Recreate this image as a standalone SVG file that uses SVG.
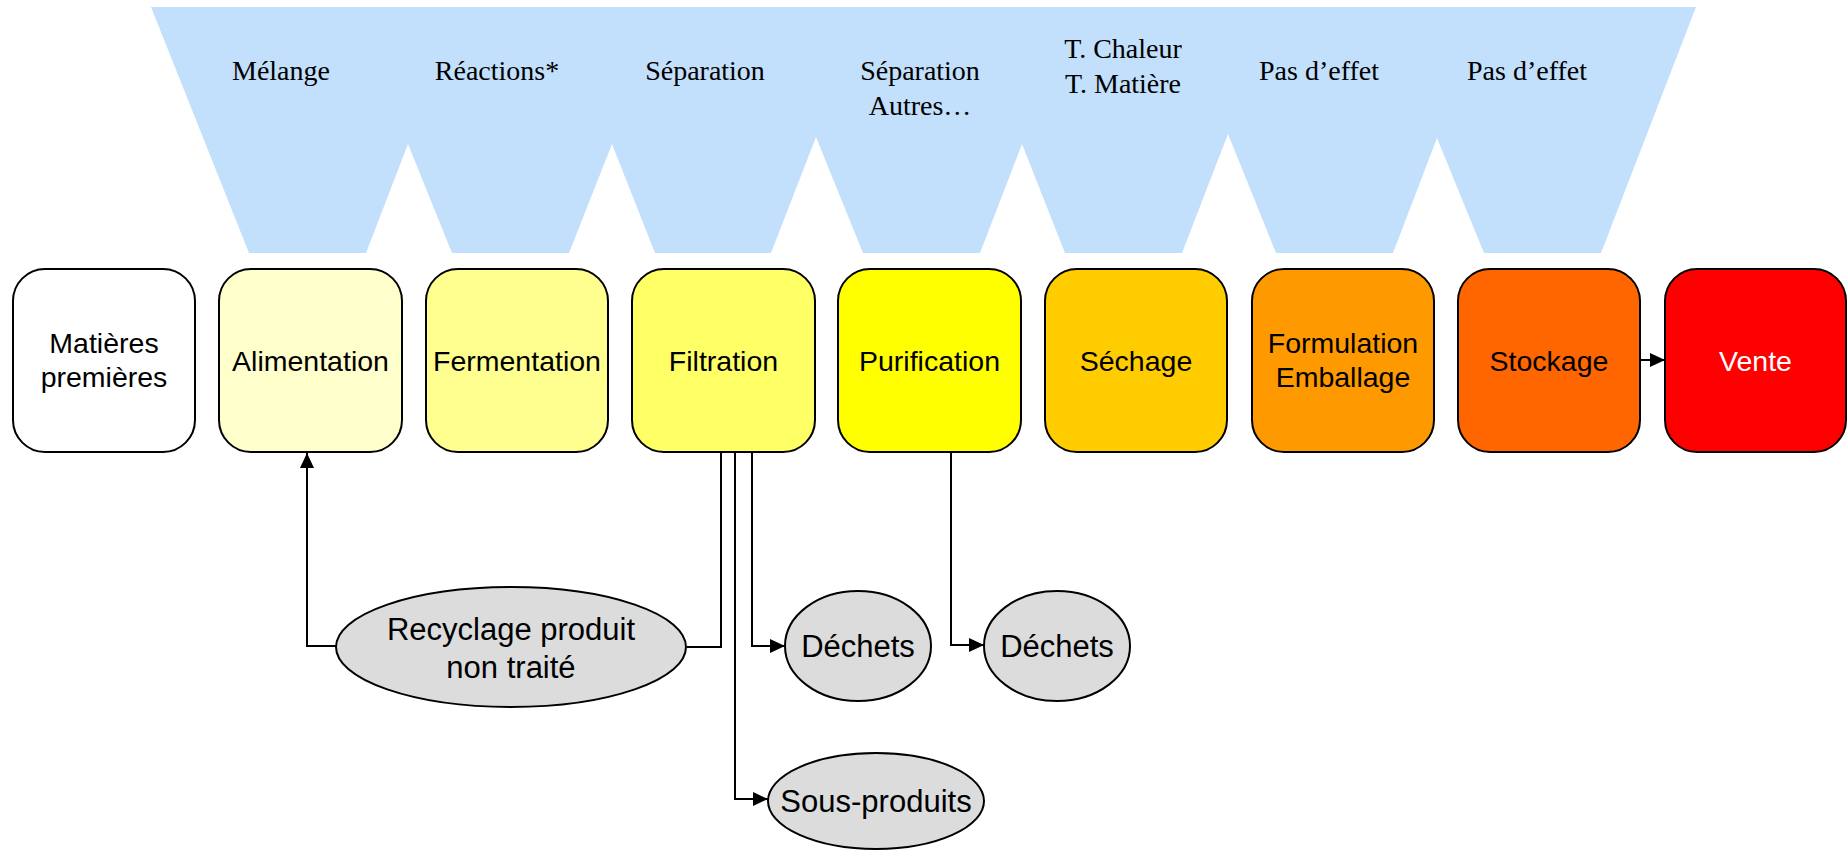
<svg xmlns="http://www.w3.org/2000/svg" width="1847" height="854" viewBox="0 0 1847 854">
  <defs>
    <marker id="arrow" markerUnits="userSpaceOnUse" markerWidth="15" markerHeight="14" refX="15" refY="7" orient="auto">
      <path d="M0,0 L15,7 L0,14 z" fill="#000"/>
    </marker>
  </defs>
  <style>
    .band { fill: #c2dffc; }
    .op { font-family: "Liberation Serif", "Times New Roman", serif; font-size: 28px; fill: #000; text-anchor: middle; }
    .box { stroke: #000; stroke-width: 2; }
    .lbl { font-family: "Liberation Sans", Arial, sans-serif; font-size: 28.5px; fill: #000; text-anchor: middle; }
    .out { fill: #dcdcdc; stroke: #000; stroke-width: 2; }
    .olbl { font-family: "Liberation Sans", Arial, sans-serif; font-size: 31px; fill: #000; text-anchor: middle; }
    .conn { fill: none; stroke: #000; stroke-width: 2; }
  </style>

  <!-- unit operations band -->
  <g id="operations">
    <polygon class="band" points="151,7 249,253 366,253 408,144 452,253 569,253 612,144 655,253 771,253 816,137 863,253 980,253 1022,144 1065,253 1182,253 1228,134 1276,253 1393,253 1437,138 1484,253 1601,253 1696,7"/>
    <text class="op" x="281" y="80">Mélange</text>
    <text class="op" x="497" y="80">Réactions*</text>
    <text class="op" x="705" y="80">Séparation</text>
    <text class="op" x="920" y="80">Séparation</text>
    <text class="op" x="920" y="115">Autres…</text>
    <text class="op" x="1123" y="58">T. Chaleur</text>
    <text class="op" x="1123" y="93">T. Matière</text>
    <text class="op" x="1319" y="80">Pas d’effet</text>
    <text class="op" x="1527" y="80">Pas d’effet</text>
  </g>

  <!-- connectors -->
  <g id="connectors">
    <path class="conn" d="M336,646 H307 V453" marker-end="url(#arrow)"/>
    <path class="conn" d="M721,452 V647 H687"/>
    <path class="conn" d="M735,452 V799 H768" marker-end="url(#arrow)"/>
    <path class="conn" d="M752,452 V646 H785" marker-end="url(#arrow)"/>
    <path class="conn" d="M951,452 V645 H984" marker-end="url(#arrow)"/>
    <path class="conn" d="M1640,360 H1665" marker-end="url(#arrow)"/>
  </g>

  <!-- process steps -->
  <g id="matieres">
    <rect class="box" x="13" y="269" width="182" height="183" rx="32" fill="#ffffff"/>
    <text class="lbl" x="104" y="353">Matières</text>
    <text class="lbl" x="104" y="387">premières</text>
  </g>
  <g id="alimentation">
    <rect class="box" x="219" y="269" width="183" height="183" rx="32" fill="#ffffcc"/>
    <text class="lbl" x="310.5" y="371">Alimentation</text>
  </g>
  <g id="fermentation">
    <rect class="box" x="426" y="269" width="182" height="183" rx="32" fill="#ffff8f"/>
    <text class="lbl" x="517" y="371">Fermentation</text>
  </g>
  <g id="filtration">
    <rect class="box" x="632" y="269" width="183" height="183" rx="32" fill="#ffff66"/>
    <text class="lbl" x="723.5" y="371">Filtration</text>
  </g>
  <g id="purification">
    <rect class="box" x="838" y="269" width="183" height="183" rx="32" fill="#ffff00"/>
    <text class="lbl" x="929.5" y="371">Purification</text>
  </g>
  <g id="sechage">
    <rect class="box" x="1045" y="269" width="182" height="183" rx="32" fill="#ffcc00"/>
    <text class="lbl" x="1136" y="371">Séchage</text>
  </g>
  <g id="formulation">
    <rect class="box" x="1252" y="269" width="182" height="183" rx="32" fill="#ff9900"/>
    <text class="lbl" x="1343" y="353">Formulation</text>
    <text class="lbl" x="1343" y="387">Emballage</text>
  </g>
  <g id="stockage">
    <rect class="box" x="1458" y="269" width="182" height="183" rx="32" fill="#ff6600"/>
    <text class="lbl" x="1549" y="371">Stockage</text>
  </g>
  <g id="vente">
    <rect class="box" x="1665" y="269" width="181" height="183" rx="32" fill="#ff0000"/>
    <text class="lbl" x="1755.5" y="371" fill="#ffffff" style="fill:#ffffff">Vente</text>
  </g>

  <!-- outputs -->
  <g id="recyclage">
    <ellipse class="out" cx="511" cy="647" rx="175" ry="60"/>
    <text class="olbl" x="511" y="640">Recyclage produit</text>
    <text class="olbl" x="511" y="678">non traité</text>
  </g>
  <g id="dechets-filtration">
    <ellipse class="out" cx="858" cy="646" rx="73" ry="55"/>
    <text class="olbl" x="858" y="657">Déchets</text>
  </g>
  <g id="dechets-purification">
    <ellipse class="out" cx="1057" cy="646" rx="73" ry="55"/>
    <text class="olbl" x="1057" y="657">Déchets</text>
  </g>
  <g id="sous-produits">
    <ellipse class="out" cx="876" cy="801" rx="108" ry="48"/>
    <text class="olbl" x="876" y="812">Sous-produits</text>
  </g>
</svg>
